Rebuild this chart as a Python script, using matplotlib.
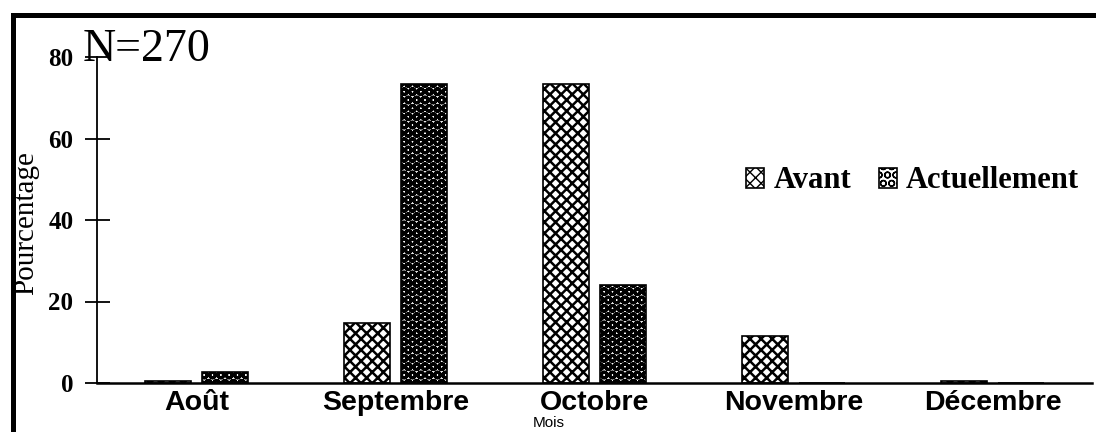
import matplotlib
matplotlib.use("Agg")
import matplotlib.pyplot as plt
import numpy as np
from matplotlib.patches import Patch
from matplotlib.lines import Line2D

categories = ["Août", "Septembre", "Octobre", "Novembre", "Décembre"]
avant = [0.4, 14.7, 73.3, 11.6, 0.4]
actuellement = [2.7, 73.3, 24.0, 0.0, 0.0]
series_names = ["Avant", "Actuellement"]
yticks = [0, 20, 40, 60, 80]

W, H = 1096, 432
fig = plt.figure(figsize=(W / 100, H / 100), dpi=100)
ax = fig.add_axes([97 / W, 1 - 383 / H, (1092 - 97) / W, (383 - 57) / H])

x = np.arange(len(categories)) + 0.5
bw = 0.23
off = 0.142

with plt.rc_context({'hatch.linewidth': 1.8}):
    ax.bar(x - off, avant, bw, facecolor="white", edgecolor="black", hatch="xxx", linewidth=1.2, zorder=2)
    h1 = Patch(facecolor="white", edgecolor="black", hatch="xxx", linewidth=1.2)
with plt.rc_context({'hatch.linewidth': 2.2}):
    ax.bar(x + off, actuellement, bw, facecolor="white", edgecolor="black", hatch="OO", linewidth=1.2, zorder=2)
    h2 = Patch(facecolor="white", edgecolor="black", hatch="OO", linewidth=1.2)

ax.set_xlim(0, 5)
ax.set_ylim(0, 80)
ax.set_yticks(yticks)
ax.set_yticklabels([str(v) for v in yticks], fontfamily="Liberation Serif", fontweight="bold", fontsize=18)
ax.tick_params(axis="y", direction="inout", length=18, width=1.3, pad=8)
ax.set_xticks(x)
ax.set_xticklabels(categories, fontfamily="Liberation Sans", fontweight="bold", fontsize=20.5)
ax.tick_params(axis="x", length=0, pad=5)
for s in ["top", "right"]:
    ax.spines[s].set_visible(False)
ax.spines["left"].set_linewidth(1.3)
ax.spines["bottom"].set_linewidth(1.8)

fig.text(549 / W, 1 - 423 / H, "Mois", fontfamily="Liberation Sans", fontsize=11, ha="center", va="center")
fig.text(26 / W, 1 - 223 / H, "Pourcentage", fontfamily="Liberation Serif", fontsize=21, rotation=90, ha="center", va="center")
fig.text(83 / W, 1 - 61 / H, "N=270", fontfamily="Liberation Serif", fontsize=33, ha="left", va="baseline")

leg = fig.legend([h1, h2], series_names, loc="center left", bbox_to_anchor=(746 / W, 1 - 181 / H),
                 frameon=False, ncol=2, borderpad=0, borderaxespad=0, handlelength=0.6, handleheight=0.65,
                 handletextpad=0.3, columnspacing=0.9,
                 prop={"family": "Liberation Serif", "weight": "bold", "size": 22})

fig.add_artist(Line2D([12.5 / W, 12.5 / W, 1.0], [0.0, 1 - 14.5 / H, 1 - 14.5 / H],
                      transform=fig.transFigure, color="black", linewidth=3.6, solid_joinstyle="miter"))

fig.savefig("out.png", dpi=100)
